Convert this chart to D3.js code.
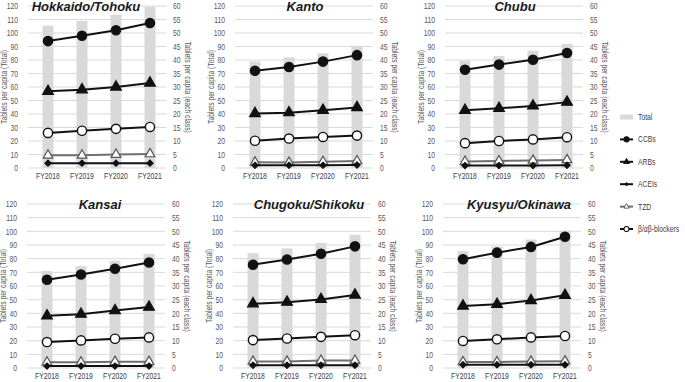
<!DOCTYPE html>
<html>
<head>
<meta charset="utf-8">
<script src="https://cdn.jsdelivr.net/npm/d3@7"></script>
<style>
  body { margin: 0; background: #fff; }
  svg { font-family: "Liberation Sans", Arial, sans-serif; }
</style>
</head>
<body>
<svg id="chart" width="685" height="382"></svg>
<script>
// ---- data ----
const years = ["FY2018", "FY2019", "FY2020", "FY2021"];
const regions = ["Hokkaido/Tohoku", "Kanto", "Chubu", "Kansai", "Chugoku/Shikoku", "Kyusyu/Okinawa"];

// left axis, tablets per capita (Total)
const total = [
    [105.5, 109, 113.5, 119.5],
    [79, 82, 85, 90.5],
    [79.5, 83, 87, 92],
    [71, 74.5, 78.5, 83.5],
    [84, 87.5, 91.5, 97.5],
    [85.5, 89, 94, 100.5]
];
// right axis, tablets per capita (each class)
const ccbs = [
    [47, 49, 51, 53.7],
    [36, 37.4, 39.4, 41.8],
    [36.4, 38.3, 40.1, 42.6],
    [32.3, 34.2, 36.3, 38.6],
    [37.8, 39.7, 41.8, 44.5],
    [39.8, 42.2, 44.3, 48]
];
const arbs = [
    [28.4, 29, 30, 31.5],
    [20.2, 20.5, 21.4, 22.4],
    [21.4, 22.1, 23, 24.4],
    [19.1, 19.7, 21, 22.3],
    [23.5, 24.1, 25.1, 26.7],
    [22.7, 23.3, 24.7, 26.6]
];
const aceis = [
    [1.8, 1.8, 1.8, 1.8],
    [1.0, 1.0, 1.0, 1.1],
    [0.9, 0.9, 0.9, 1.0],
    [0.7, 0.7, 0.7, 0.7],
    [1.0, 1.0, 1.0, 1.0],
    [1.2, 1.2, 1.2, 1.2]
];
const tzd = [
    [4.7, 4.7, 5.0, 5.2],
    [2.1, 2.0, 2.3, 2.6],
    [2.4, 2.6, 2.8, 3.0],
    [2.1, 2.1, 2.3, 2.3],
    [2.4, 2.4, 2.7, 2.7],
    [2.2, 2.2, 2.4, 2.5]
];
const blockers = [
    [13, 13.8, 14.5, 15.2],
    [10.1, 10.9, 11.5, 12],
    [9.2, 10, 10.6, 11.4],
    [9.5, 10.1, 10.7, 11.2],
    [10.2, 10.8, 11.4, 12],
    [9.9, 10.5, 11.2, 11.7]
];
const leftTicks = d3.range(0, 121, 10);
const rightTicks = d3.range(0, 61, 5);

// ---- layout ----
const panels = [
    {ox: 0, top: 6, bottom: 168, titleDx: -12},
    {ox: 207, top: 6, bottom: 168, titleDx: 0},
    {ox: 417, top: 6, bottom: 168, titleDx: 0},
    {ox: -1, top: 204, bottom: 368, titleDx: 3},
    {ox: 205, top: 204, bottom: 368, titleDx: 6},
    {ox: 415, top: 204, bottom: 368, titleDx: 6}
];

const textGray = "#595959";
const gridGray = "#d9d9d9";
const barGray = "#d9d9d9";
const squeeze = "scale(0.8,1)";   // the source text looks horizontally condensed

const symTri = d3.symbol().type(d3.symbolTriangle);
const symDia = d3.symbol().type(d3.symbolDiamond2);

const series = [
    {name: "CCBs", data: ccbs, line: "#111", width: 2, marker: "circle", fill: "#111", stroke: "#111", r: 4.6},
    {name: "ARBs", data: arbs, line: "#111", width: 2, marker: "tri", fill: "#111", stroke: "#111", size: 50},
    {name: "ACEIs", data: aceis, line: "#111", width: 2, marker: "dia", fill: "#111", stroke: "#111", size: 24},
    {name: "TZD", data: tzd, line: "#6f6f6f", width: 2, marker: "tri", fill: "#fff", stroke: "#555", size: 40},
    {name: "β/αβ-blockers", data: blockers, line: "#111", width: 2, marker: "circle", fill: "#fff", stroke: "#111", r: 4.6}
];

const svg = d3.select("#chart");

function drawMarker(g, s, x, y, scale) {
    const k = scale || 1;
    if (s.marker === "circle") {
        g.append("circle").attr("cx", x).attr("cy", y).attr("r", s.r * k)
            .attr("fill", s.fill).attr("stroke", s.stroke).attr("stroke-width", 1.4 * Math.sqrt(k));
    } else {
        const gen = s.marker === "tri" ? symTri : symDia;
        g.append("path").attr("d", gen.size(s.size * k * k)())
            .attr("transform", `translate(${x},${y})`)
            .attr("fill", s.fill).attr("stroke", s.stroke).attr("stroke-width", 1.2 * Math.sqrt(k));
    }
}

function styleAxisText(ax, color) {
    ax.select(".domain").remove();
    ax.selectAll("text").attr("fill", color).attr("font-size", 8.5)
        .attr("font-family", null).attr("transform", squeeze);
}

regions.forEach((region, i) => {
    const p = panels[i];
    const g = svg.append("g").attr("transform", `translate(${p.ox},0)`);

    const x = d3.scaleBand().domain(years).range([31, 167]);
    const yL = d3.scaleLinear().domain([0, 120]).range([p.bottom, p.top]);
    const yR = d3.scaleLinear().domain([0, 60]).range([p.bottom, p.top]);

    // gridlines
    g.selectAll(".grid").data(leftTicks).enter().append("line")
        .attr("x1", 28).attr("x2", 166)
        .attr("y1", d => yL(d)).attr("y2", d => yL(d))
        .attr("stroke", gridGray).attr("stroke-width", 1);

    // left axis labels
    const axL = g.append("g").attr("transform", "translate(18,0)")
        .call(d3.axisLeft(yL).tickValues(leftTicks).tickSize(0).tickPadding(0));
    styleAxisText(axL, textGray);

    // right axis labels
    const axR = g.append("g").attr("transform", "translate(173,0)")
        .call(d3.axisRight(yR).tickValues(rightTicks).tickSize(0).tickPadding(0));
    styleAxisText(axR, textGray);

    // x axis labels
    const axX = g.append("g").attr("transform", `translate(0,${p.bottom + 5})`)
        .call(d3.axisBottom(x).tickSize(0).tickPadding(0));
    styleAxisText(axX, "#404040");

    // axis titles
    const midY = (p.top + p.bottom) / 2;
    g.append("text")
        .attr("transform", `translate(4.5,${midY}) rotate(-90) ${squeeze}`)
        .attr("text-anchor", "middle").attr("dy", "0.35em")
        .attr("font-size", 8.5).attr("fill", textGray)
        .text("Tablets per capita (Total)");
    g.append("text")
        .attr("transform", `translate(188,${midY}) rotate(90) ${squeeze}`)
        .attr("text-anchor", "middle").attr("dy", "0.35em")
        .attr("font-size", 8.5).attr("fill", textGray)
        .text("Tablets per capita (each class)");

    // total bars
    const bw = 11;
    g.selectAll(".bar").data(total[i]).enter().append("rect")
        .attr("x", (d, j) => x(years[j]) + x.bandwidth() / 2 - bw / 2)
        .attr("y", d => yL(d))
        .attr("width", bw)
        .attr("height", d => yL(0) - yL(d))
        .attr("fill", barGray);

    // title
    g.append("text")
        .attr("x", 98 + p.titleDx).attr("y", p.top + 5)
        .attr("text-anchor", "middle")
        .attr("font-size", 13).attr("font-weight", "bold").attr("font-style", "italic")
        .attr("fill", "#1a1a1a")
        .text(region);

    // class lines, drawn bottom up so big markers sit on top
    const cx = j => x(years[j]) + x.bandwidth() / 2;
    series.slice().reverse().forEach(s => {
        const vals = s.data[i];
        g.append("path")
            .attr("d", d3.line().x((d, j) => cx(j)).y(d => yR(d))(vals))
            .attr("fill", "none").attr("stroke", s.line).attr("stroke-width", s.width);
        vals.forEach((v, j) => drawMarker(g, s, cx(j), yR(v)));
    });
});

// ---- legend ----
const leg = svg.append("g").attr("transform", "translate(620,117)");
const step = 22.4;
leg.append("rect").attr("x", 0).attr("y", -2.5).attr("width", 13).attr("height", 5).attr("fill", barGray);
leg.append("text").attr("transform", `translate(18,0) ${squeeze}`).attr("dy", "0.35em")
    .attr("font-size", 8.5).attr("fill", "#404040").text("Total");
series.forEach((s, k) => {
    const yy = (k + 1) * step;
    leg.append("line").attr("x1", 0).attr("x2", 13).attr("y1", yy).attr("y2", yy)
        .attr("stroke", s.line).attr("stroke-width", 2);
    drawMarker(leg, s, 6.5, yy, 0.55);
    leg.append("text").attr("transform", `translate(18,${yy}) ${squeeze}`).attr("dy", "0.35em")
        .attr("font-size", 8.5).attr("fill", "#404040").text(s.name);
});
</script>
</body>
</html>
